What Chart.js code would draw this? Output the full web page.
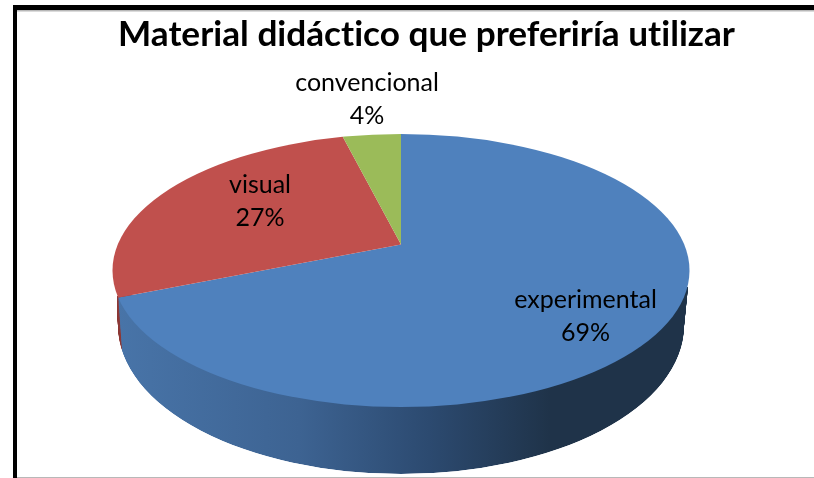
<!DOCTYPE html>
<html>
<head>
<meta charset="utf-8">
<script src="https://cdn.jsdelivr.net/npm/chart.js@4/dist/chart.umd.min.js"></script>
<style>html,body{margin:0;padding:0;background:#fff}canvas{display:block}</style>
</head>
<body>
<canvas id="c" width="814" height="478"></canvas>
<script>
const titleText = 'Material didáctico que preferiría utilizar';
const categories = ['experimental', 'visual', 'convencional'];
const percentages = [69, 27, 4];
const sliceColors = ['#4F81BD', '#C0504D', '#9BBB59'];

const FONT = 'Lato, Carlito, "Open Sans", sans-serif';
const apex = {x: 401, y: 244.5}, tilt = 0.475, reach = 620;
const rim = {x: 401, y: 270.5, rx: 288.5, ry: 136.5};
const base = {x: 401, y: 326, rx: 283, ry: 148};
const labelCentres = [{x: 585.5, y: 300}, {x: 260, y: 185}, {x: 367, y: 83}];

const pie3d = {
  id: 'pie3d',
  beforeDraw(chart) {
    const c = chart.ctx;
    c.textRendering = 'optimizeSpeed';
    c.save();
    c.fillStyle = '#fff'; c.fillRect(0, 0, 814, 478);
    c.fillStyle = '#b8b8b8';
    c.fillRect(17, 10, 797, 1.5);
    c.fillRect(17, 477, 797, 1);
    c.fillStyle = '#000';
    c.fillRect(13, 5, 801, 5);
    c.fillRect(13, 5, 4, 473);
    c.restore();
  },
  beforeDatasetsDraw(chart) {
    const c = chart.ctx;
    const arcs = chart.getDatasetMeta(0).data;
    const a0 = arcs[0];
    const k = reach / a0.outerRadius;
    const toChart = X => a0.x + (X - apex.x) / k;
    const layer = (cl, dy, styles) => {
      c.save();
      c.beginPath();
      c.ellipse(cl.x, cl.y, cl.rx, cl.ry, 0, 0, Math.PI * 2);
      c.clip();
      c.translate(apex.x, apex.y + dy);
      c.scale(k, k * tilt);
      c.translate(-a0.x, -a0.y);
      arcs.forEach((arc, i) => {
        const o = arc.options;
        arc.options = Object.assign({}, o, {backgroundColor: styles[i], borderWidth: 0});
        arc.draw(c);
        arc.options = o;
      });
      c.restore();
    };
    const g = c.createLinearGradient(toChart(118), 0, toChart(550), 0);
    g.addColorStop(0, '#4874A8');
    g.addColorStop(0.42, '#3D6392');
    g.addColorStop(0.72, '#2C4A70');
    g.addColorStop(1, '#1F3349');
    const wall = [g, '#8E3A38', '#73893F'];
    const drop = (base.y + base.ry) - (rim.y + rim.ry);
    const steps = Math.round(drop);
    c.save();
    c.beginPath();
    c.moveTo(117, 296);
    c.lineTo(base.x - base.rx, base.y);
    c.ellipse(base.x, base.y, base.rx, base.ry, 0, Math.PI, 0, true);
    c.lineTo(688, 287);
    c.closePath();
    c.clip();
    for (let s = steps; s > 0; s--) {
      const t = s / steps;
      layer({
        x: rim.x,
        y: rim.y + (base.y - rim.y) * t,
        rx: rim.rx + (base.rx - rim.rx) * t,
        ry: rim.ry + (base.ry - rim.ry) * t
      }, drop * t * 0.8, wall);
    }
    c.restore();
    layer(rim, 0, sliceColors);
    return false;
  },
  afterDraw(chart) {
    const c = chart.ctx;
    c.save();
    c.fillStyle = '#000';
    c.font = '25px ' + FONT;
    c.textAlign = 'center';
    c.textBaseline = 'middle';
    categories.forEach((name, i) => {
      c.fillText(name, labelCentres[i].x, labelCentres[i].y);
      c.fillText(percentages[i] + '%', labelCentres[i].x, labelCentres[i].y + 32.5);
    });
    c.restore();
  }
};

new Chart(document.getElementById('c'), {
  type: 'pie',
  data: {
    labels: categories,
    datasets: [{data: percentages, backgroundColor: sliceColors, borderWidth: 0}]
  },
  options: {
    responsive: false,
    animation: false,
    layout: {padding: {left: 39, top: 12}},
    plugins: {
      legend: {display: false},
      tooltip: {enabled: false},
      title: {
        display: true,
        text: titleText,
        color: '#000',
        font: {family: FONT, size: 35.2, weight: 'bold'},
        padding: {top: 2, bottom: 4}
      }
    }
  },
  plugins: [pie3d]
});
</script>
</body>
</html>
